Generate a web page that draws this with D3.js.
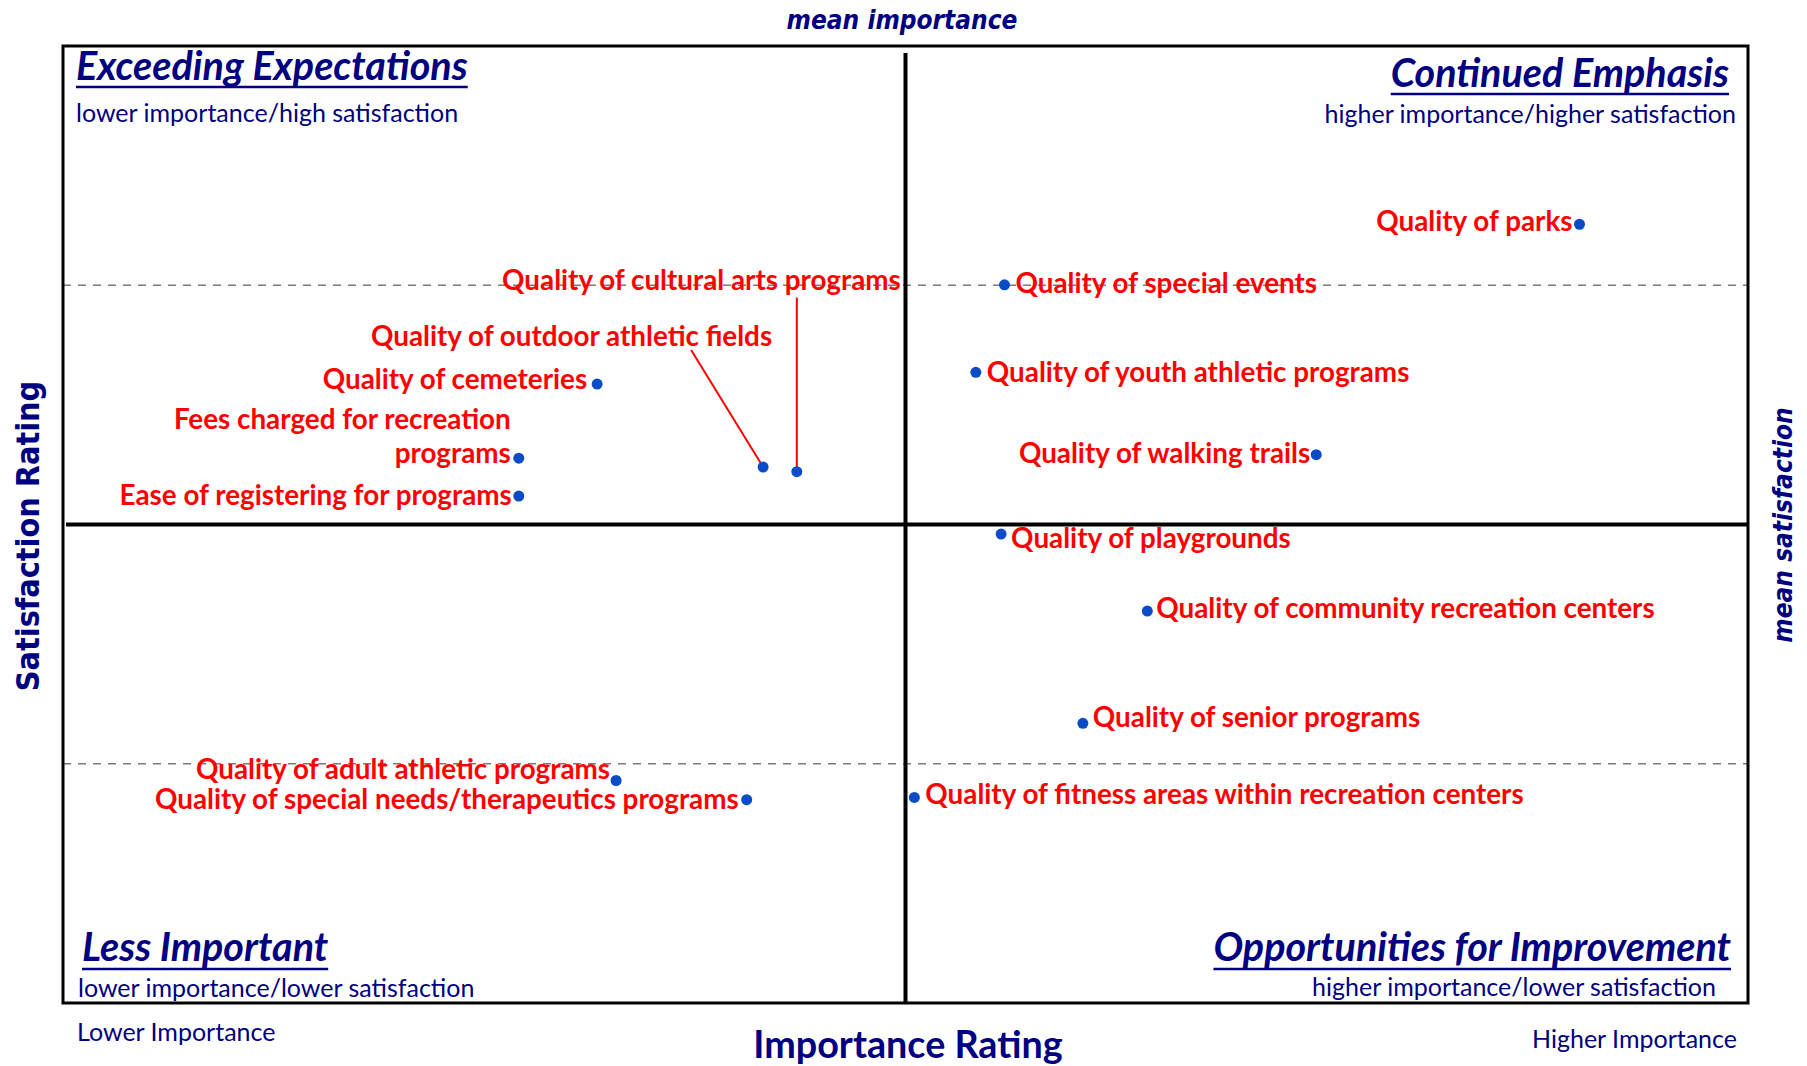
<!DOCTYPE html>
<html>
<head>
<meta charset="utf-8">
<script src="https://cdn.jsdelivr.net/npm/d3@7"></script>
<style>
  html, body { margin: 0; padding: 0; background: #ffffff; }
  svg { display: block; }
</style>
</head>
<body>
<svg id="chart" width="1807" height="1066"></svg>
<script>
// ---------------- DATA ----------------
const items = [
  "Quality of parks",
  "Quality of special events",
  "Quality of youth athletic programs",
  "Quality of walking trails",
  "Quality of playgrounds",
  "Quality of community recreation centers",
  "Quality of senior programs",
  "Quality of fitness areas within recreation centers",
  "Quality of cultural arts programs",
  "Quality of outdoor athletic fields",
  "Quality of cemeteries",
  "Fees charged for recreation programs",
  "Ease of registering for programs",
  "Quality of adult athletic programs",
  "Quality of special needs/therapeutics programs"
];
const importance = [36.00, 22.35, 21.67, 29.75, 22.27, 25.74, 24.21, 20.21, 17.42, 16.62, 12.68, 10.82, 10.82, 13.13, 16.23];
const satisfaction = [77.55, 75.02, 71.36, 67.92, 64.60, 61.38, 56.69, 53.59, 67.21, 67.40, 70.87, 67.77, 66.19, 54.30, 53.50];

const importanceDomain = [0, 40];
const satisfactionDomain = [45, 85];
const meanImportance = 20;
const meanSatisfaction = 65;
const satisfactionGuides = [55, 75];

const quadrants = [
  { title: "Exceeding Expectations", sub: "lower importance/high satisfaction" },
  { title: "Continued Emphasis", sub: "higher importance/higher satisfaction" },
  { title: "Less Important", sub: "lower importance/lower satisfaction" },
  { title: "Opportunities for Improvement", sub: "higher importance/lower satisfaction" }
];
const axisTexts = {
  x: "Importance Rating", y: "Satisfaction Rating",
  meanX: "mean importance", meanY: "mean satisfaction",
  low: "Lower Importance", high: "Higher Importance"
};

// ---------------- LAYOUT (label placement relative to points) ----------------
const labelLayout = [
  { anchor: "end",   dx: -7,  dy: 7 },
  { anchor: "start", dx: 11,  dy: 8 },
  { anchor: "start", dx: 11,  dy: 9.5 },
  { anchor: "end",   dx: -6,  dy: 8.5 },
  { anchor: "start", dx: 10,  dy: 14 },
  { anchor: "start", dx: 9,   dy: 7 },
  { anchor: "start", dx: 10,  dy: 3.5 },
  { anchor: "start", dx: 11,  dy: 6.5 },
  { anchor: "end",   dx: 104, dy: -182, leader: [0, -174] },
  { anchor: "end",   dx: 9,   dy: -121, leader: [-72, -117] },
  { anchor: "end",   dx: -10, dy: 5 },
  { anchor: "end",   dx: -8,  dy: 4.5, lines: ["Fees charged for recreation", "programs"], lineGap: 34 },
  { anchor: "end",   dx: -7,  dy: 8.5 },
  { anchor: "end",   dx: -6,  dy: -1.5 },
  { anchor: "end",   dx: -8,  dy: 9.5 }
];

// ---------------- CHART ----------------
const svg = d3.select("#chart");
const plot = { left: 63, right: 1748, top: 46, bottom: 1003 };
const x = d3.scaleLinear().domain(importanceDomain).range([plot.left, plot.right]);
const y = d3.scaleLinear().domain(satisfactionDomain).range([plot.bottom, plot.top]);

const NAVY = "#000080", RED = "#ff0000", DOT = "#0a4cc8";
const CAL = "Lato, 'Open Sans', sans-serif";
const VER = "'DejaVu Sans', Verdana, sans-serif";

// dashed guides
svg.append("g").selectAll("line").data(satisfactionGuides).join("line")
  .attr("x1", plot.left).attr("x2", plot.right)
  .attr("y1", d => y(d)).attr("y2", d => y(d))
  .attr("stroke", "#7a7a7a").attr("stroke-width", 1.5).attr("stroke-dasharray", "8,7");

// mean lines
svg.append("line")
  .attr("x1", x(meanImportance)).attr("x2", x(meanImportance))
  .attr("y1", plot.top + 7).attr("y2", plot.bottom)
  .attr("stroke", "#000").attr("stroke-width", 4);
svg.append("line")
  .attr("x1", plot.left + 3).attr("x2", plot.right)
  .attr("y1", y(meanSatisfaction)).attr("y2", y(meanSatisfaction))
  .attr("stroke", "#000").attr("stroke-width", 4);

// border
svg.append("rect")
  .attr("x", plot.left).attr("y", plot.top)
  .attr("width", plot.right - plot.left).attr("height", plot.bottom - plot.top)
  .attr("fill", "none").attr("stroke", "#000").attr("stroke-width", 3);

// quadrant titles
const qPos = [
  { xT: plot.left + 13, xS: plot.left + 13, yT: 80, yS: 122, anchor: "start", ul: 7 },
  { xT: plot.right - 19, xS: plot.right - 12, yT: 87, yS: 123, anchor: "end", ul: 7 },
  { xT: plot.left + 19, xS: plot.left + 15, yT: 961, yS: 997, anchor: "start", ul: 8 },
  { xT: plot.right - 17, xS: plot.right - 32, yT: 961, yS: 996, anchor: "end", ul: 8 }
];
quadrants.forEach((q, i) => {
  const p = qPos[i];
  const t = svg.append("text")
    .attr("x", p.xT).attr("y", p.yT).attr("text-anchor", p.anchor)
    .attr("font-family", CAL).attr("font-weight", "bold").attr("font-style", "italic")
    .attr("font-size", 39.5).attr("fill", NAVY).text(q.title);
  const w = t.node().getComputedTextLength();
  const x0 = p.anchor === "start" ? p.xT : p.xT - w;
  svg.append("line").attr("x1", x0).attr("x2", x0 + w)
    .attr("y1", p.yT + p.ul).attr("y2", p.yT + p.ul)
    .attr("stroke", NAVY).attr("stroke-width", 2.5);
  svg.append("text")
    .attr("x", p.xS).attr("y", p.yS).attr("text-anchor", p.anchor)
    .attr("font-family", CAL).attr("font-size", 25).attr("fill", NAVY).text(q.sub);
});

// axis texts
svg.append("text").attr("transform", "translate(902,29) scale(0.9,1)").attr("text-anchor", "middle")
  .attr("font-family", VER).attr("font-weight", "bold").attr("font-style", "italic")
  .attr("font-size", 26).attr("fill", NAVY).text(axisTexts.meanX);
svg.append("text").attr("transform", "translate(39,536) rotate(-90) scale(0.9,1)").attr("text-anchor", "middle")
  .attr("font-family", VER).attr("font-weight", "bold")
  .attr("font-size", 32).attr("fill", NAVY).text(axisTexts.y);
svg.append("text").attr("transform", "translate(1792,525) rotate(-90) scale(0.9,1)").attr("text-anchor", "middle")
  .attr("font-family", VER).attr("font-weight", "bold").attr("font-style", "italic")
  .attr("font-size", 26).attr("fill", NAVY).text(axisTexts.meanY);
svg.append("text").attr("x", 908).attr("y", 1058).attr("text-anchor", "middle")
  .attr("font-family", CAL).attr("font-weight", "bold")
  .attr("font-size", 37.7).attr("fill", NAVY).text(axisTexts.x);
svg.append("text").attr("x", 77).attr("y", 1041).attr("text-anchor", "start")
  .attr("font-family", CAL).attr("font-size", 25).attr("fill", NAVY).text(axisTexts.low);
svg.append("text").attr("x", 1737).attr("y", 1048).attr("text-anchor", "end")
  .attr("font-family", CAL).attr("font-size", 25).attr("fill", NAVY).text(axisTexts.high);

// points data
const pts = items.map((name, i) => ({
  name, imp: importance[i], sat: satisfaction[i], lay: labelLayout[i]
}));

// leader lines
svg.append("g").selectAll("line").data(pts.filter(d => d.lay.leader)).join("line")
  .attr("x1", d => x(d.imp) + d.lay.leader[0]).attr("y1", d => y(d.sat) + d.lay.leader[1])
  .attr("x2", d => x(d.imp)).attr("y2", d => y(d.sat))
  .attr("stroke", RED).attr("stroke-width", 2);

// labels
const lg = svg.append("g").attr("font-family", CAL).attr("font-weight", "bold")
  .attr("font-size", 27.8).attr("fill", RED);
pts.forEach(d => {
  const L = d.lay;
  const px = x(d.imp) + L.dx, py = y(d.sat) + L.dy;
  if (L.lines) {
    L.lines.forEach((ln, k) => {
      lg.append("text").attr("x", px).attr("y", py - (L.lines.length - 1 - k) * L.lineGap)
        .attr("text-anchor", L.anchor).text(ln);
    });
  } else {
    lg.append("text").attr("x", px).attr("y", py).attr("text-anchor", L.anchor).text(d.name);
  }
});

// dots
svg.append("g").selectAll("circle").data(pts).join("circle")
  .attr("cx", d => x(d.imp)).attr("cy", d => y(d.sat)).attr("r", 5.5)
  .attr("fill", DOT);
</script>
</body>
</html>
